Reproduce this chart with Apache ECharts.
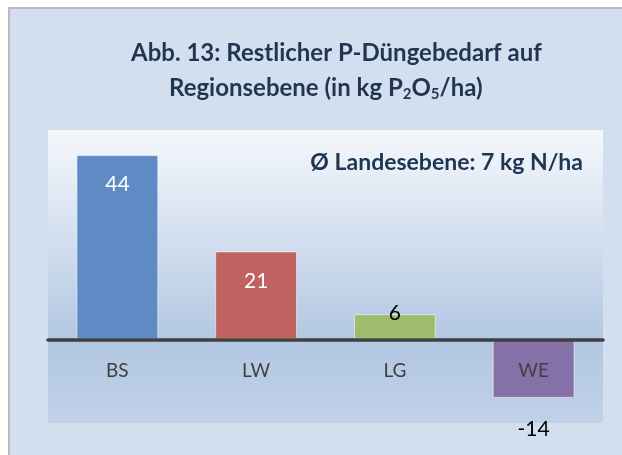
<!DOCTYPE html>
<html>
<head>
<meta charset="utf-8">
<script src="https://cdn.jsdelivr.net/npm/echarts@6/dist/echarts.min.js"></script>
<style>
    html, body { margin: 0; padding: 0; background: #ffffff; }
    #chart { width: 622px; height: 455px; }
</style>
</head>
<body>
<div id="chart"></div>
<script>
// regions and remaining P demand (kg P2O5/ha)
var categories = ['BS', 'LW', 'LG', 'WE'];
var values = [44, 21, 6, -14];
var barColors = ['#5f8bc4', '#c0625f', '#9dbd6c', '#8670a8'];
var labelColors = ['#ffffff', '#ffffff', '#000000', '#000000'];

var titleColor = '#1f3552';
var font = 'Lato';

var chart = echarts.init(document.getElementById('chart'));

function genSeriesData() {
    var data = [];
    for (let i = 0; i < values.length; i++) {
        var label = {
            color: labelColors[i],
            position: 'insideTop',
            distance: 19
        };
        if (values[i] < 0) {
            label.position = 'bottom';
            label.distance = 21;
        } else if (values[i] < 10) {
            label.position = 'insideTop';
            label.distance = -11;
        }
        data.push({
            value: values[i],
            itemStyle: { color: barColors[i] },
            label: label
        });
    }
    return data;
}

var option = {
    animation: false,
    backgroundColor: '#ffffff',
    graphic: [
        // grey frame line + chart area background
        { type: 'rect', left: 8, top: 7, shape: { width: 614, height: 448 }, style: { fill: '#bcbcbc' }, z: -10 },
        { type: 'rect', left: 10, top: 9, shape: { width: 612, height: 446 }, style: { fill: '#d3dfee' }, z: -9 },
        {
            type: 'text',
            left: 131,
            top: 41,
            style: {
                text: 'Abb. 13: Restlicher P-Düngebedarf auf',
                font: 'bold 24px ' + font,
                fill: titleColor
            }
        },
        {
            type: 'text',
            left: 169,
            top: 76,
            style: {
                rich: {
                    t: { fontFamily: font, fontWeight: 'bold', fontSize: 24, fill: titleColor },
                    s: { fontFamily: font, fontWeight: 'bold', fontSize: 15, fill: titleColor, padding: [13, 0, 0, 0] }
                },
                text: '{t|Regionsebene (in kg P}{s|2}{t|O}{s|5}{t|/ha)}'
            }
        },
        {
            type: 'text',
            right: 39,
            top: 151,
            style: {
                text: 'Ø Landesebene: 7 kg N/ha',
                font: 'bold 23px ' + font,
                fill: titleColor
            }
        }
    ],
    grid: {
        left: 48,
        right: 19,
        top: 130,
        bottom: 32,
        outerBoundsMode: 'none',
        containLabel: false,
        show: true,
        borderWidth: 0,
        backgroundColor: new echarts.graphic.LinearGradient(0, 0, 0, 1, [
            { offset: 0, color: '#f5f8fc' },
            { offset: 0.72, color: '#b2c7e2' },
            { offset: 1, color: '#c0d1e7' }
        ])
    },
    xAxis: {
        type: 'category',
        data: categories,
        axisLine: { onZero: true, lineStyle: { color: '#404040', width: 3.5 } },
        axisTick: { show: false },
        axisLabel: { color: '#404040', fontFamily: font, fontSize: 19, margin: -62 },
        z: 5
    },
    yAxis: {
        type: 'value',
        min: -20,
        max: 50,
        interval: 10,
        show: false,
        splitLine: { show: false }
    },
    series: [{
        type: 'bar',
        barWidth: '59%',
        data: genSeriesData(),
        itemStyle: { borderColor: 'rgba(255,255,255,0.55)', borderWidth: 1 },
        label: {
            show: true,
            fontFamily: font,
            fontSize: 21
        }
    }]
};

chart.setOption(option);
</script>
</body>
</html>
